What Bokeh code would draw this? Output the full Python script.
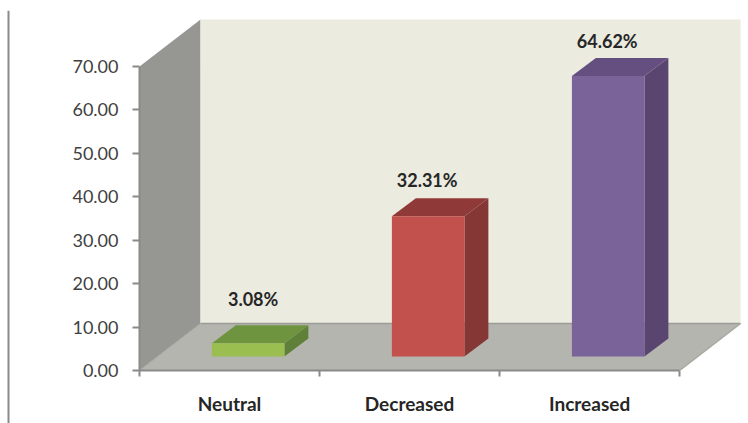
from bokeh.plotting import figure
from bokeh.embed import file_html
from bokeh.layouts import row
from bokeh.resources import INLINE
from bokeh.models import FixedTicker, Range1d, Span
from bokeh.core.properties import value

categories = ["Neutral", "Decreased", "Increased"]
values = [3.08, 32.31, 64.62]
value_labels = ["3.08%", "32.31%", "64.62%"]
y_ticks = [0, 10, 20, 30, 40, 50, 60, 70]
y_tick_labels = ["0.00", "10.00", "20.00", "30.00", "40.00", "50.00", "60.00", "70.00"]

front_colors = ["#9ABF50", "#C2504D", "#7A6399"]
top_colors = ["#6E9440", "#8F3A38", "#644F80"]
side_colors = ["#5F8038", "#843735", "#5A4470"]

# 3D projection, in axis units
WALL_DX, WALL_DY = 0.339, 10.82
BAR_DX, BAR_DY = 0.133, 4.14
BAR_W = 0.403
BAR_X0 = 0.402
BAR_BASE = 3.22
FONT = value("Lato")

p = figure(width=738, height=423, output_backend="svg", toolbar_location=None,
           x_range=Range1d(0, 3.383), y_range=Range1d(0, 82.9),
           min_border_left=129, min_border_right=0, min_border_top=10, min_border_bottom=53,
           background_fill_color="white", border_fill_color="white")
p.grid.visible = False
p.outline_line_color = None

# walls and floor
p.patch([0, 0, WALL_DX, WALL_DX], [0, 70, 70 + WALL_DY, WALL_DY], fill_color="#969793", line_color=None)
p.patch([WALL_DX, WALL_DX, 3 + WALL_DX, 3 + WALL_DX],
        [WALL_DY, 70 + WALL_DY, 70 + WALL_DY, WALL_DY], fill_color="#EBEBE0", line_color=None)
p.patch([0, 3, 3 + WALL_DX, WALL_DX], [0, 0, WALL_DY, WALL_DY], fill_color="#B5B5AF", line_color=None)
p.line([WALL_DX, 3 + WALL_DX], [WALL_DY, WALL_DY], line_color="#9C9C96", line_width=1.5)
p.line([3, 3 + WALL_DX], [0, WALL_DY], line_color="#A8A8A2", line_width=1.5)
p.line([0, WALL_DX], [0, WALL_DY], line_color="#A8A8A2", line_width=1)

# bars
for i, v in enumerate(values):
    x0 = i + BAR_X0
    x1 = x0 + BAR_W
    y0 = BAR_BASE
    y1 = BAR_BASE + v
    p.patch([x1, x1 + BAR_DX, x1 + BAR_DX, x1], [y0, y0 + BAR_DY, y1 + BAR_DY, y1],
            fill_color=side_colors[i], line_color=None)
    p.patch([x0, x1, x1 + BAR_DX, x0 + BAR_DX], [y1, y1, y1 + BAR_DY, y1 + BAR_DY],
            fill_color=top_colors[i], line_color=None)
    p.quad(left=x0, right=x1, bottom=y0, top=y1, fill_color=front_colors[i], line_color=None)

# value labels
label_dx = [5, -1, -1]
label_dy = [44, 36, 35]
for i, v in enumerate(values):
    p.text([i + BAR_X0 + BAR_W / 2], [BAR_BASE + v], text=[value_labels[i]], text_font=FONT,
           text_font_style="bold", text_font_size="18px", text_color="#262626",
           text_align="center", text_baseline="middle",
           x_offset=label_dx[i], y_offset=-label_dy[i])

# axes
ya = p.yaxis[0]
ya.ticker = FixedTicker(ticks=y_ticks)
ya.major_label_overrides = dict(zip(y_ticks, y_tick_labels))
ya.bounds = (0, 70)
ya.axis_line_color = "#8A8A8A"
ya.axis_line_width = 2
ya.major_tick_line_color = "#8A8A8A"
ya.major_tick_line_width = 2
ya.major_tick_out = 7
ya.major_tick_in = 0
ya.minor_tick_out = 0
ya.minor_tick_in = 0
ya.major_label_text_font = "Lato"
ya.major_label_text_font_size = "18px"
ya.major_label_text_color = "#404040"
ya.major_label_standoff = 14

xa = p.xaxis[0]
centers = [i + 0.5 for i in range(len(categories))]
xa.ticker = FixedTicker(ticks=centers, minor_ticks=list(range(len(categories) + 1)))
xa.major_label_overrides = dict(zip(centers, categories))
xa.bounds = (0, 3)
xa.axis_line_color = "#8A8A8A"
xa.axis_line_width = 2
xa.major_tick_out = 0
xa.major_tick_in = 0
xa.minor_tick_line_color = "#8A8A8A"
xa.minor_tick_line_width = 2
xa.minor_tick_out = 6
xa.minor_tick_in = 0
xa.major_label_text_font = "Lato"
xa.major_label_text_font_style = "bold"
xa.major_label_text_font_size = "19px"
xa.major_label_text_color = "#262626"
xa.major_label_standoff = 15

# vertical rule on the left of the page, in its own narrow panel
rule = figure(frame_width=10, frame_height=413, output_backend="svg", toolbar_location=None,
              x_axis_location=None, y_axis_location=None,
              x_range=Range1d(0, 10), y_range=Range1d(0, 1),
              min_border_left=0, min_border_right=0, min_border_top=10, min_border_bottom=0,
              background_fill_color="white", border_fill_color="white")
rule.grid.visible = False
rule.outline_line_color = None
rule.add_layout(Span(location=8, dimension="height", line_color="#8A8A8A", line_width=2))

page = row(rule, p, spacing=0)
open("out.html", "w").write(file_html(page, INLINE))
